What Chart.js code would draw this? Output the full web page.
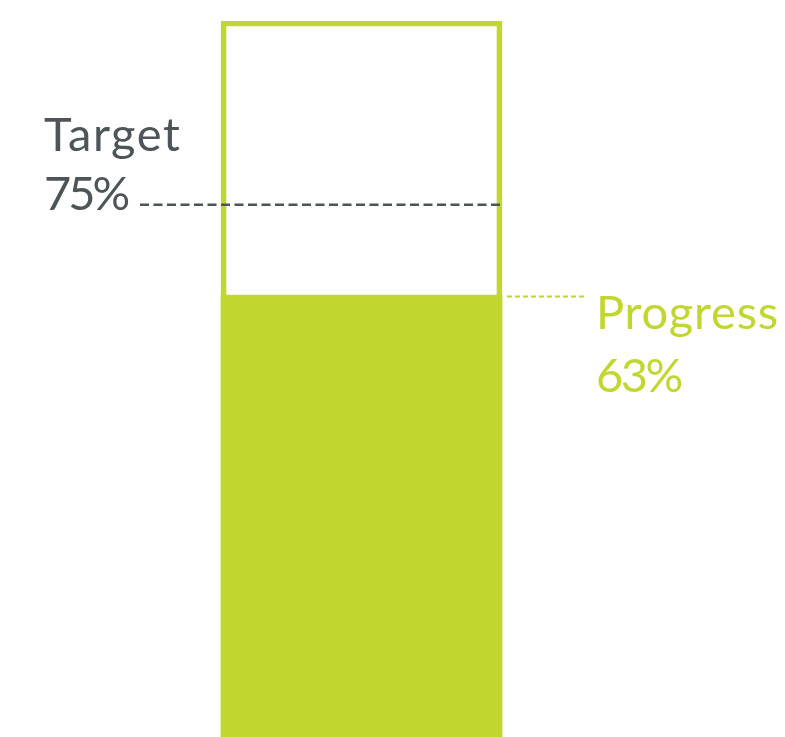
<!DOCTYPE html>
<html>
<head>
<meta charset="utf-8">
<script src="https://cdn.jsdelivr.net/npm/chart.js@4/dist/chart.umd.min.js"></script>
<style>
  html, body { margin: 0; padding: 0; background: #ffffff; overflow: hidden; }
  #wrap { width: 785px; height: 737px; }
</style>
</head>
<body>
<div id="wrap"><canvas id="c" width="785" height="737"></canvas></div>
<script>
const categories = ["Progress"];
const progressValues = [63];
const targetValues = [75];
const capacityValues = [100];
const labelTexts = { target: "Target", progress: "Progress" };

const GREEN = "#c1d72f";
const GRAY = "#4d5559";
const FONT = "Lato, 'Open Sans', sans-serif";

const annotate = {
  id: "annotate",
  afterDatasetsDraw(chart) {
    const ctx = chart.ctx;
    const y = chart.scales.y;
    const bar = chart.getDatasetMeta(0).data[0];
    const right = bar.x + bar.width / 2;
    const tY = y.getPixelForValue(targetValues[0]);
    const pY = y.getPixelForValue(progressValues[0]);

    ctx.save();
    // target dashed line
    ctx.strokeStyle = GRAY;
    ctx.lineWidth = 2.5;
    ctx.setLineDash([9, 4.5]);
    ctx.beginPath();
    ctx.moveTo(140, tY - 1.5);
    ctx.lineTo(right, tY - 1.5);
    ctx.stroke();

    // progress dashed line
    ctx.strokeStyle = GREEN;
    ctx.lineWidth = 2;
    ctx.setLineDash([5, 3]);
    ctx.beginPath();
    ctx.moveTo(right + 5, pY + 1.5);
    ctx.lineTo(584, pY + 1.5);
    ctx.stroke();
    ctx.setLineDash([]);

    // texts
    ctx.font = "400 47px " + FONT;
    ctx.textBaseline = "alphabetic";
    ctx.textAlign = "left";
    ctx.fillStyle = GRAY;
    ctx.letterSpacing = "1.6px";
    ctx.fillText(labelTexts.target, 44, tY - 55);
    ctx.letterSpacing = "-3px";
    ctx.fillText(targetValues[0] + "%", 44, tY + 4);
    ctx.fillStyle = GREEN;
    ctx.letterSpacing = "0.8px";
    ctx.fillText(labelTexts.progress, 596, pY + 34);
    ctx.letterSpacing = "-2.5px";
    ctx.fillText(progressValues[0] + "%", 596, pY + 97);
    ctx.restore();
  }
};

new Chart(document.getElementById("c"), {
  type: "bar",
  data: {
    labels: categories,
    datasets: [
      {
        data: progressValues,
        backgroundColor: GREEN,
        borderWidth: 0,
        barThickness: 281,
        grouped: false,
        order: 0
      },
      {
        data: capacityValues,
        backgroundColor: "rgba(255,255,255,0)",
        borderColor: GREEN,
        borderWidth: 5,
        borderSkipped: "start",
        barThickness: 281,
        grouped: false,
        order: 1
      }
    ]
  },
  options: {
    responsive: false,
    animation: false,
    layout: { padding: { left: 0, right: 62, top: 0, bottom: 0 } },
    plugins: { legend: { display: false }, tooltip: { enabled: false } },
    scales: {
      x: { display: false },
      y: { display: false, min: 3.3, max: 102.84 }
    }
  },
  plugins: [annotate]
});
</script>
</body>
</html>
